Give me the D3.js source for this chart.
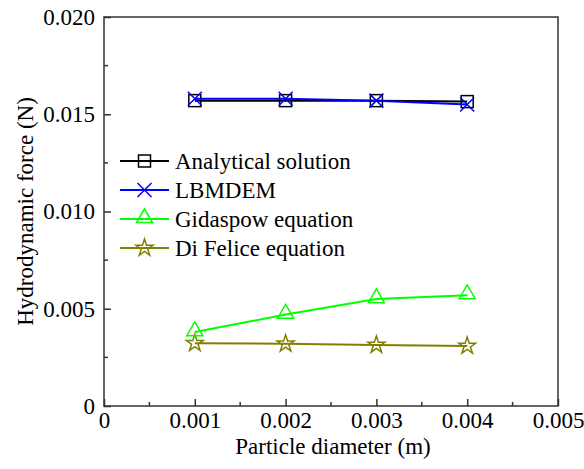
<!DOCTYPE html>
<html>
<head>
<meta charset="utf-8">
<script src="https://cdn.jsdelivr.net/npm/d3@7"></script>
<style>
body { margin: 0; background: #fff; }
text { font-family: "Liberation Serif", "Times New Roman", serif; }
</style>
</head>
<body>
<script>
var diameters = [0.001, 0.002, 0.003, 0.004];
var analytical = [0.0157, 0.0157, 0.0157, 0.01565];
var lbmdem = [0.0158, 0.0158, 0.0157, 0.0155];
var gidaspow = [0.0038, 0.0047, 0.0055, 0.0057];
var diFelice = [0.00323, 0.0032, 0.00314, 0.00309];
var seriesNames = ['Analytical solution', 'LBMDEM', 'Gidaspow equation', 'Di Felice equation'];
var seriesColors = ['#000000', '#0000ff', '#00ff00', '#808000'];
var xTicks = [0, 0.001, 0.002, 0.003, 0.004, 0.005];
var yTicks = [0, 0.005, 0.010, 0.015, 0.020];
var xTickLabels = ['0', '0.001', '0.002', '0.003', '0.004', '0.005'];
var yTickLabels = ['0', '0.005', '0.010', '0.015', '0.020'];

var W = 584, H = 469;
var pLeft = 104, pTop = 17, pRight = 558, pBottom = 406;
var fs = 23;

var svg = d3.select('body').append('svg').attr('width', W).attr('height', H);

var x = d3.scaleLinear().domain([0, 0.005]).range([pLeft, pRight]);
var y = d3.scaleLinear().domain([0, 0.02]).range([pBottom, pTop]);

var axisColor = '#333';

// frame
svg.append('rect').attr('x', pLeft).attr('y', pTop).attr('width', pRight - pLeft).attr('height', pBottom - pTop)
    .attr('fill', 'none').attr('stroke', axisColor).attr('stroke-width', 1.5);

// x axis ticks (inward) + minor
var xMinor = d3.range(0.0005, 0.005, 0.001);
var gx = svg.append('g').attr('transform', 'translate(0,' + pBottom + ')');
gx.call(d3.axisBottom(x).tickValues(xTicks).tickSize(-7).tickFormat(function(d, i){ return xTickLabels[i]; }).tickPadding(6));
gx.select('.domain').remove();
gx.selectAll('line').attr('stroke', axisColor).attr('stroke-width', 1.5);
gx.selectAll('text').attr('font-size', fs).attr('fill', '#000').attr('font-family', 'Liberation Serif');
gx.selectAll('line.minor').data(xMinor).enter().append('line').attr('class', 'minor')
    .attr('x1', function(d){return x(d);}).attr('x2', function(d){return x(d);})
    .attr('y1', 0).attr('y2', -4).attr('stroke', axisColor).attr('stroke-width', 1.5);

var yMinor = d3.range(0.0025, 0.02, 0.005);
var gy = svg.append('g').attr('transform', 'translate(' + pLeft + ',0)');
gy.call(d3.axisLeft(y).tickValues(yTicks).tickSize(-7).tickFormat(function(d, i){ return yTickLabels[i]; }).tickPadding(9));
gy.select('.domain').remove();
gy.selectAll('line').attr('stroke', axisColor).attr('stroke-width', 1.5);
gy.selectAll('text').attr('font-size', fs).attr('fill', '#000').attr('font-family', 'Liberation Serif');
gy.selectAll('line.minor').data(yMinor).enter().append('line').attr('class', 'minor')
    .attr('y1', function(d){return y(d);}).attr('y2', function(d){return y(d);})
    .attr('x1', 0).attr('x2', 4).attr('stroke', axisColor).attr('stroke-width', 1.5);

// axis titles
svg.append('text').attr('x', 333).attr('y', 454).attr('text-anchor', 'middle')
    .attr('font-size', fs).text('Particle diameter (m)');
svg.append('text').attr('transform', 'translate(33,' + ((pTop + pBottom) / 2) + ') rotate(-90)')
    .attr('text-anchor', 'middle').attr('font-size', fs).text('Hydrodynamic force (N)');

// markers
function marker(g, type, color, cx, cy) {
    if (type === 0) {
        g.append('rect').attr('x', cx - 6).attr('y', cy - 6).attr('width', 12).attr('height', 12)
            .attr('fill', 'none').attr('stroke', color).attr('stroke-width', 1.5);
    } else if (type === 1) {
        g.append('path').attr('d', 'M' + (cx - 7) + ',' + (cy - 7) + 'L' + (cx + 7) + ',' + (cy + 7) +
            'M' + (cx - 7) + ',' + (cy + 7) + 'L' + (cx + 7) + ',' + (cy - 7))
            .attr('stroke', color).attr('stroke-width', 1.5).attr('fill', 'none');
    } else if (type === 2) {
        g.append('path').attr('d', d3.symbol().type(d3.symbolTriangle).size(110)())
            .attr('transform', 'translate(' + cx + ',' + (cy - 1) + ')')
            .attr('fill', 'none').attr('stroke', color).attr('stroke-width', 1.5);
    } else {
        g.append('path').attr('d', d3.symbol().type(d3.symbolStar).size(90)())
            .attr('transform', 'translate(' + cx + ',' + cy + ')')
            .attr('fill', 'none').attr('stroke', color).attr('stroke-width', 1.5);
    }
}

var allSeries = [analytical, lbmdem, gidaspow, diFelice];
var line = d3.line().x(function(d, i){ return x(diameters[i]); }).y(function(d){ return y(d); });

// draw Di Felice and Gidaspow first, then analytical, then LBMDEM on top
[3, 2, 0, 1].forEach(function(s) {
    var g = svg.append('g').attr('class', 'series' + s);
    g.append('path').attr('d', line(allSeries[s])).attr('fill', 'none')
        .attr('stroke', seriesColors[s]).attr('stroke-width', 2);
    allSeries[s].forEach(function(v, i) {
        marker(g, s, seriesColors[s], x(diameters[i]), y(v));
    });
});

// legend
var legend = svg.append('g');
seriesNames.forEach(function(name, s) {
    var ly = 161 + s * 29;
    legend.append('line').attr('x1', 120).attr('x2', 169).attr('y1', ly).attr('y2', ly)
        .attr('stroke', seriesColors[s]).attr('stroke-width', 2);
    marker(legend, s, seriesColors[s], 144.5, ly);
    legend.append('text').attr('x', 175).attr('y', ly + 8).attr('font-size', fs).text(name);
});
</script>
</body>
</html>
